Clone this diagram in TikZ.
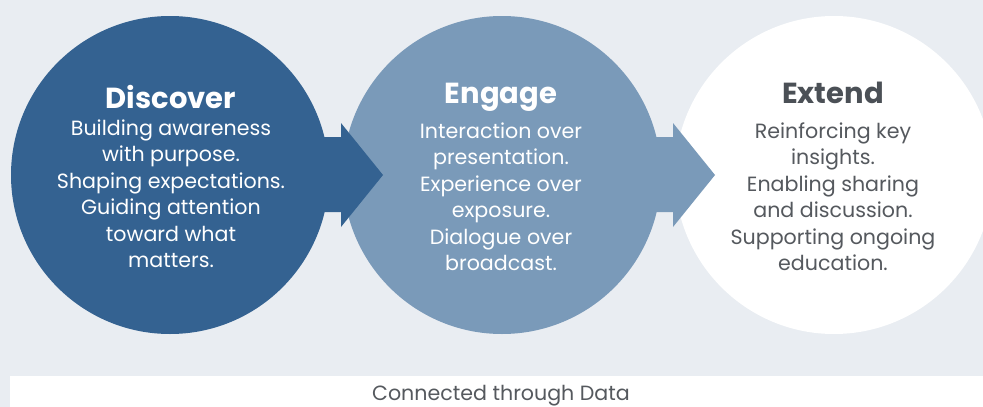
\documentclass[tikz,border=0pt]{standalone}
\usepackage{fontspec}
\setmainfont{Poppins}
\usetikzlibrary{calc}
\definecolor{bg}{HTML}{E9EDF2}
\definecolor{darkblue}{HTML}{346291}
\definecolor{lightblue}{HTML}{7A9AB9}
\definecolor{headgray}{HTML}{4B5056}
\definecolor{bodygray}{HTML}{55595E}
\tikzset{
  stage/.style={circle, minimum size=318pt, inner sep=0pt},
  stagetitle/.style={anchor=base, inner sep=0pt, font=\fontsize{29}{31}\selectfont\bfseries},
  % anchored at the baseline of the last of six lines
  stagebody/.style={anchor=base, inner sep=0pt, align=center, font=\fontsize{20.6}{26.5}\selectfont},
}
\begin{document}
\begin{tikzpicture}[x=1pt,y=-1pt]
\useasboundingbox (0,0) rectangle (983,407);
\fill[bg] (0,0) rectangle (983,407);

% the three stages
\node[stage, fill=darkblue] (c1) at (170,175) {};
\node[stage, fill=lightblue] (c2) at (502,175) {};
\node[stage, fill=white] (c3) at (834,175) {};

% block arrows linking the stages
\fill[darkblue] ($(c1.center)+(130,-38)$) -- ++(41,0) -- ++(0,-14) -- ++(42,52) -- ++(-42,52) -- ++(0,-15) -- ++(-41,0) -- cycle;
\fill[lightblue] ($(c2.center)+(130,-38)$) -- ++(41,0) -- ++(0,-14) -- ++(42,52) -- ++(-42,52) -- ++(0,-15) -- ++(-41,0) -- cycle;

% texts
\node[stagetitle, text=white] (t1) at (171,108) {Discover};
\node[stagebody, text=white] (b1) at (171,267.5) {Building awareness\\with purpose.\\Shaping expectations.\\Guiding attention\\toward what\\matters.};

\node[stagetitle, text=white] (t2) at (501,103) {Engage};
\node[stagebody, text=white] (b2) at (501,270.5) {Interaction over\\presentation.\\Experience over\\exposure.\\Dialogue over\\broadcast.};

\node[stagetitle, text=headgray] (t3) at (833,103) {Extend};
\node[stagebody, text=bodygray] (b3) at (833,270.5) {Reinforcing key\\insights.\\Enabling sharing\\and discussion.\\Supporting ongoing\\education.};

% bottom band
\node[fill=white, anchor=north west, minimum width=973pt, minimum height=31pt, inner sep=0pt] (band) at (10,376) {};
\node[anchor=base, inner sep=0pt, text=bodygray, font=\fontsize{20.6}{22}\selectfont] (cap) at (501,400) {Connected through Data};
\end{tikzpicture}
\end{document}
